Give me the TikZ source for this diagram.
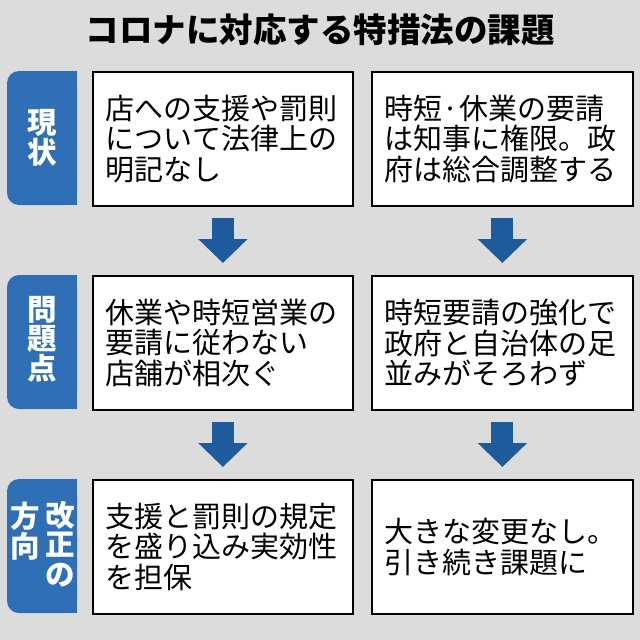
\documentclass[tikz,border=0pt]{standalone}
\usepackage{fontspec}
\setmainfont{Noto Sans CJK JP}
\usetikzlibrary{arrows.meta}
\definecolor{bg}{HTML}{DCDCDC}
\definecolor{tabblue}{HTML}{2F6FB6}
\definecolor{arrblue}{HTML}{1E5B9C}
\begin{document}
\begin{tikzpicture}[x=1pt,y=-1pt,
  box/.style={draw=black, line width=1.8pt, fill=white, anchor=north west,
    minimum height=134pt, text width=234pt, inner xsep=13pt, inner ysep=0pt,
    align=left, font=\fontsize{29}{30.5}\selectfont},
  tabtext/.style={text=white, font=\fontsize{29.5}{29.5}\selectfont\bfseries,
    align=center, inner sep=0pt},
  tabfill/.style={fill=tabblue},
  barrow/.style={draw=arrblue, line width=22pt, -{Triangle[width=48pt,length=24pt]}}]
\fill[bg] (0,0) rectangle (640,640);
\useasboundingbox (0,0) rectangle (640,640);
% title
\node[font=\fontsize{33.5}{36}\selectfont\bfseries, inner sep=0pt] (title) at (320,30) {コロナに対応する特措法の課題};
% tabs
\foreach \ya/\yb in {71/205, 275/409, 479/613}{
  \fill[tabfill, rounded corners=12pt] (7,\ya) rectangle (77,\yb);
  \fill[tabfill] (40,\ya) rectangle (77,\yb);
}
\node[tabtext] (t1) at (42,138) {現\\状};
\node[tabtext] (t2) at (42,339) {問\\題\\点};
\node[tabtext, anchor=north] (t3a) at (60,501) {改\\正\\の};
\node[tabtext, anchor=north] (t3b) at (25,502) {方\\向};
% boxes
\node[box] (b11) at (92,71) {店への支援や罰則\\について法律上の\\明記なし};
\node[box, text width=235pt] (b12) at (371,71) {時短·休業の要請\\は知事に権限。政\\府は総合調整する};
\node[box] (b21) at (92,275) {休業や時短営業の\\要請に従わない\\店舗が相次ぐ};
\node[box, text width=235pt] (b22) at (371,275) {時短要請の強化で\\政府と自治体の足\\並みがそろわず};
\node[box] (b31) at (92,479) {支援と罰則の規定\\を盛り込み実効性\\を担保};
\node[box, text width=235pt] (b32) at (371,479) {大きな変更なし。\\引き続き課題に};
% arrows
\draw[barrow] ([yshift=-11pt]b11.south) -- ([yshift=12pt]b21.north);
\draw[barrow] ([yshift=-11pt]b12.south) -- ([yshift=12pt]b22.north);
\draw[barrow] ([yshift=-11pt]b21.south) -- ([yshift=12pt]b31.north);
\draw[barrow] ([yshift=-11pt]b22.south) -- ([yshift=12pt]b32.north);
\end{tikzpicture}
\end{document}
